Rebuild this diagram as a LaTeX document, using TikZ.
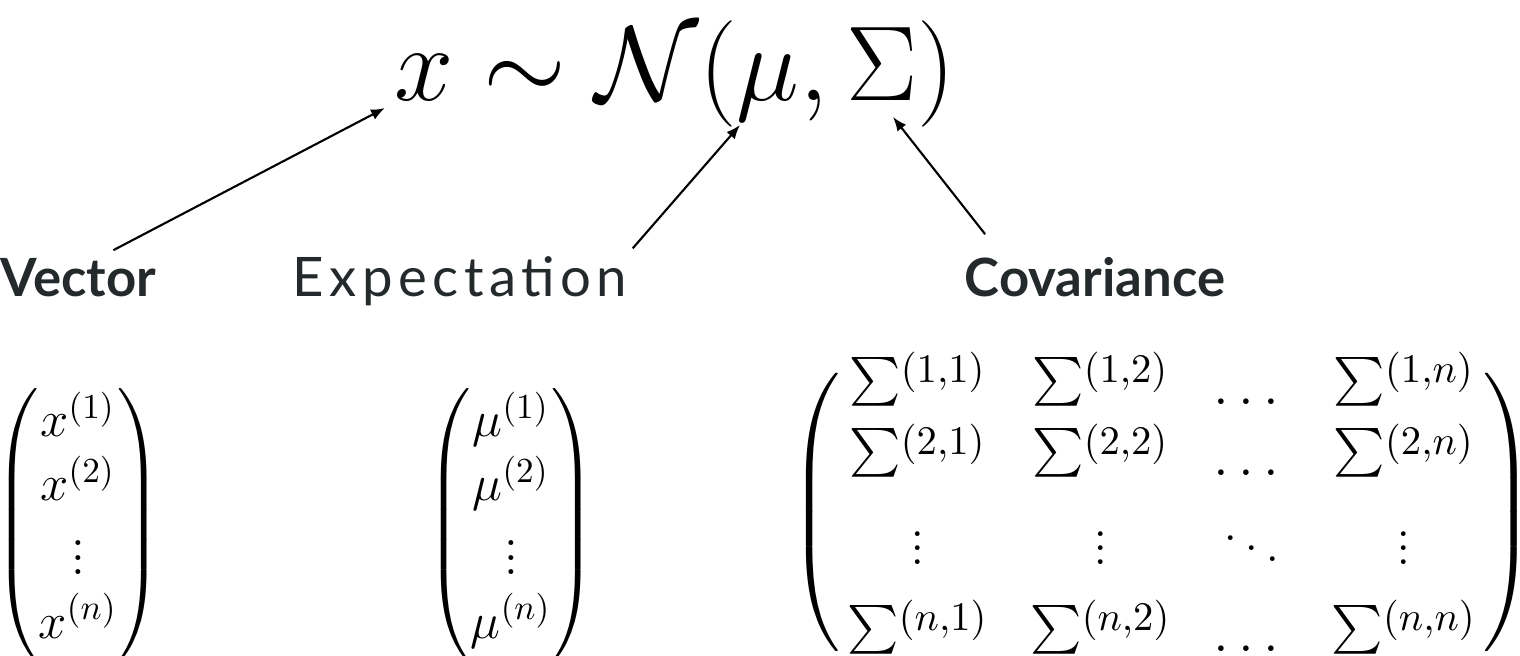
\RequirePackage{fix-cm}
\documentclass[tikz,border=0pt]{standalone}
\usepackage{amsmath,amssymb}
\usepackage{graphicx}
\usepackage{fontspec}
\setsansfont{Lato}
\usepackage{tikz}
\usetikzlibrary{arrows.meta, positioning, calc}
\definecolor{labelink}{HTML}{24292B}
\newcommand{\csum}{\mathord{\smash{\raisebox{2.8pt}{\scalebox{0.84}{$\sum$}}}}}

\begin{document}
\begin{tikzpicture}[
  tag/.style={font=\sffamily\fontsize{15}{18}\selectfont, text=labelink, inner sep=0pt},
  strongtag/.style={tag, font=\sffamily\bfseries\fontsize{15}{18}\selectfont},
  mat/.style={inner sep=0pt, font=\fontsize{14.4}{18.2}\selectfont},
  pointer/.style={line width=0.6pt, -{Latex[length=1.4mm, width=1.1mm]}},
]
\useasboundingbox (0,0) rectangle (15.2,-6.56);

% Distribution
\node[inner sep=0pt, font=\fontsize{30.3}{36}\selectfont] (dist) at (6.75,-0.74) {$x \sim \mathcal{N}(\mu, \Sigma)$};
\coordinate (xtip) at (3.85,-1.08);
\coordinate (mutip) at (7.40,-1.25);
\coordinate (sigtip) at (8.93,-1.17);

% Labels
\node[strongtag, anchor=base west] (vec) at (0,-2.97) {Vector};
\node[tag, anchor=base, font=\sffamily\fontsize{15.5}{18}\selectfont\addfontfeatures{LetterSpace=10}] (expt) at (4.60,-2.97) {Expectation};
\node[strongtag, anchor=base] (cov) at (10.95,-2.97) {Covariance};

% Pointers
\draw[pointer] ([xshift=3.5mm, yshift=0.8mm]vec.north) -- (xtip);
\draw[pointer] ([xshift=0.5mm, yshift=0.8mm]expt.north east) -- (mutip);
\draw[pointer] ([xshift=2.1mm, yshift=2.3mm]cov.north west) -- (sigtip);

% Vectors and matrix
\node[mat, anchor=south] (xvec) at (0.78,-6.62) {$\begin{pmatrix} x^{(1)}\\ x^{(2)}\\ \vdots\\ x^{(n)} \end{pmatrix}$};
\node[mat, anchor=south] (muvec) at (5.11,-6.62) {$\begin{pmatrix} \mu^{(1)}\\ \mu^{(2)}\\ \vdots\\ \mu^{(n)} \end{pmatrix}$};
\node[mat, font=\fontsize{16.5}{18.7}\selectfont] (sigmat) at (11.62,-5.12) {\arraycolsep=6pt
$\left(\vcenter{\hbox{\rule{0pt}{84pt}}}\smash{\begin{array}{@{\kern2pt}cccc@{\kern2pt}}
  \csum^{(1,1)} & \csum^{(1,2)} & \dots & \csum^{(1,n)}\\
  \csum^{(2,1)} & \csum^{(2,2)} & \dots & \csum^{(2,n)}\\[4.5pt]
  \vdots & \vdots & \ddots & \vdots\\[4.5pt]
  \csum^{(n,1)} & \csum^{(n,2)} & \dots & \csum^{(n,n)}
\end{array}}\right)$};
\end{tikzpicture}
\end{document}
